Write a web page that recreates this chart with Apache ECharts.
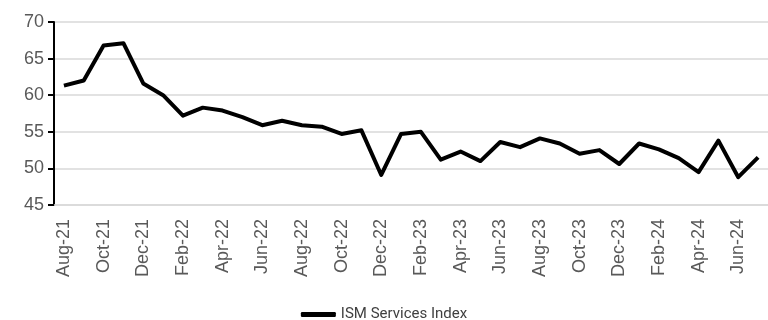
<!DOCTYPE html>
<html>
<head>
<meta charset="utf-8">
<script src="https://cdn.jsdelivr.net/npm/echarts@6/dist/echarts.min.js"></script>
<style>html,body{margin:0;padding:0;background:#fff}#c{width:768px;height:320px}</style>
</head>
<body>
<div id="c"></div>
<script>
const categories = ["Aug-21","Sep-21","Oct-21","Nov-21","Dec-21","Jan-22","Feb-22","Mar-22","Apr-22","May-22","Jun-22","Jul-22","Aug-22","Sep-22","Oct-22","Nov-22","Dec-22","Jan-23","Feb-23","Mar-23","Apr-23","May-23","Jun-23","Jul-23","Aug-23","Sep-23","Oct-23","Nov-23","Dec-23","Jan-24","Feb-24","Mar-24","Apr-24","May-24","Jun-24","Jul-24"];
const ismServices = [61.3,62.0,66.8,67.1,61.6,60.0,57.2,58.3,57.9,57.0,55.9,56.5,55.9,55.7,54.7,55.2,49.1,54.7,55.0,51.2,52.3,51.0,53.6,52.9,54.1,53.4,52.0,52.5,50.6,53.4,52.6,51.4,49.5,53.8,48.8,51.5];
const yTicks = {min:45, max:70, interval:5};
const seriesName = "ISM Services Index";

const chart = echarts.init(document.getElementById('c'));
chart.setOption({
  animation:false,
  grid:{left:54, top:22, right:-2, bottom:115, containLabel:false},
  legend:{
    top:302, left:'center',
    data:[{name:seriesName, icon:'roundRect'}],
    itemWidth:35, itemHeight:5, itemGap:2,
    textStyle:{fontFamily:'Roboto, sans-serif', fontSize:15, color:'#404040'}
  },
  xAxis:{
    type:'category', data:categories, boundaryGap:true,
    axisLine:{lineStyle:{color:'#d9d9d9', width:1.5}},
    axisTick:{show:false},
    axisLabel:{interval:1, rotate:90, fontFamily:'Liberation Sans, Arial, sans-serif', fontSize:18, color:'#595959', margin:14}
  },
  yAxis:{
    type:'value', min:yTicks.min, max:yTicks.max, interval:yTicks.interval,
    axisLine:{show:true, lineStyle:{color:'#000', width:2}},
    axisTick:{show:true, length:6, lineStyle:{color:'#000', width:2}},
    splitLine:{lineStyle:{color:'#d9d9d9', width:1.5}},
    axisLabel:{fontFamily:'Liberation Sans, Arial, sans-serif', fontSize:18, color:'#595959', margin:10}
  },
  series:[{
    name:seriesName, type:'line', data:ismServices, symbol:'none',
    lineStyle:{color:'#000', width:4, join:'round'}, itemStyle:{color:'#000'}
  }]
});
</script>
</body>
</html>
